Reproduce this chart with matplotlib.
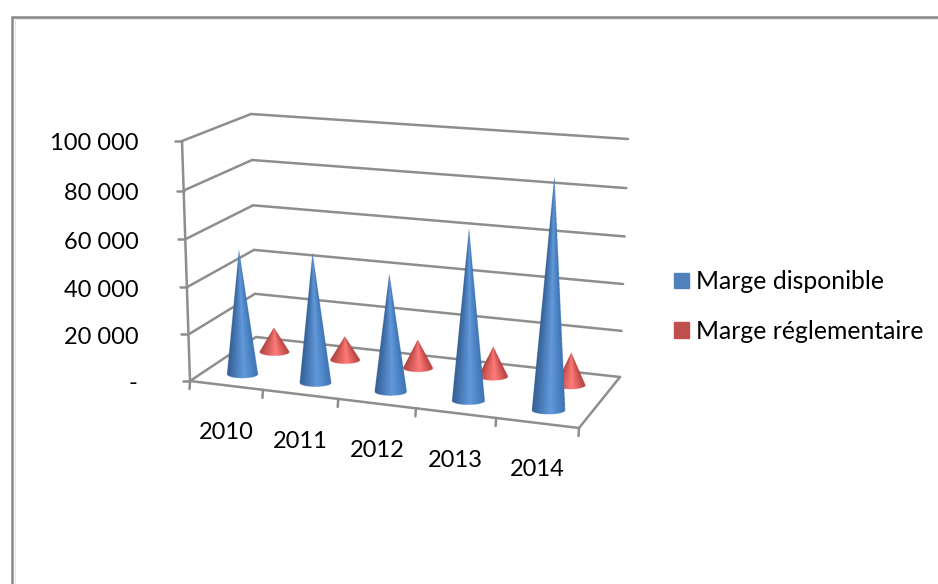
import matplotlib
matplotlib.use('Agg')
import matplotlib.pyplot as plt
from matplotlib.patches import Patch
import numpy as np

plt.rcParams['font.family'] = ['Lato', 'DejaVu Sans']

years = ['2010', '2011', '2012', '2013', '2014']
marge_disponible = [53500, 55000, 49500, 70700, 94000]
marge_reglementaire = [11000, 10500, 12500, 13000, 14000]
axis_values = [0, 20000, 40000, 60000, 80000, 100000]
axis_labels = ['-', '20 000', '40 000', '60 000', '80 000', '100 000']

GRID = '#8e8e8e'
BLUE = '#4f81bd'
RED = '#c0504d'


def homography(corners):
    # unit square (u, d) to the four screen corners
    src = [(0, 0), (1, 0), (1, 1), (0, 1)]
    a = []
    b = []
    for (u, d), (x, y) in zip(src, corners):
        a.append([u, d, 1, 0, 0, 0, -u * x, -d * x])
        a.append([0, 0, 0, u, d, 1, -u * y, -d * y])
        b += [x, y]
    h = np.linalg.solve(np.array(a, dtype=float), np.array(b, dtype=float))
    return np.append(h, 1).reshape(3, 3)


floor_h = homography([(190, 381), (579, 428), (620, 377), (256, 337)])
top_h = homography([(182, 141), (589, 172), (628, 139), (251, 114)])


def apply_h(h, u, d):
    p = h @ np.array([u, d, 1.0])
    return p[:2] / p[2]


def project(cat, depth, value):
    # cat in category units, depth 0 front to 1 back
    u = cat / len(years)
    f = apply_h(floor_h, u, depth)
    t = apply_h(top_h, u, depth)
    s = value / 100000
    s = s / (1 + 0.04 * (1 - s))  # slight vertical perspective
    return f + (t - f) * s


def line(ax, p, q, lw=1.8):
    ax.plot([p[0], q[0]], [p[1], q[1]], color=GRID, lw=lw, solid_capstyle='round', zorder=2)


def shade(t, dark_l, light, dark_r):
    # t from -1 (left edge) to 1 (right edge), brightest a bit right of middle
    out = np.zeros(t.shape + (3,))
    for i in range(3):
        out[..., i] = np.interp(t, [-1, 0.1, 1], [dark_l[i], light[i], dark_r[i]])
    return out


def draw_cone(ax, base, tip, half_w, half_h, dark_l, light, dark_r, z):
    ss = 4
    x0 = int(min(base[0] - half_w, tip[0])) - 2
    x1 = int(max(base[0] + half_w, tip[0])) + 3
    y0 = int(tip[1]) - 2
    y1 = int(base[1] + half_h) + 3
    xs = np.arange(x0, x1, 1 / ss)
    ys = np.arange(y0, y1, 1 / ss)
    xx, yy = np.meshgrid(xs, ys)
    frac = np.clip((yy - tip[1]) / (base[1] - tip[1]), 0, 1)
    xc = tip[0] + (base[0] - tip[0]) * frac
    hw = np.maximum(half_w * frac, 0.01)
    t = np.clip((xx - xc) / hw, -1, 1)
    lower = base[1] + half_h * np.sqrt(np.maximum(1 - t ** 2, 0))
    inside = (np.abs(xx - xc) <= hw) & (yy >= tip[1]) & (yy <= lower)
    inside = inside & ((yy <= base[1]) | (np.abs(xx - base[0]) <= half_w))
    rgb = shade(t, dark_l, light, dark_r)
    img = np.dstack([rgb, inside.astype(float)])
    ax.imshow(img, extent=(x0, x1, y1, y0), interpolation='antialiased', zorder=z, aspect='auto')


fig = plt.figure(figsize=(9.38, 5.84), dpi=100)
ax = fig.add_axes([0, 0, 1, 1])
ax.set_axis_off()

# page frame, runs off the right and bottom of the picture
ax.plot([12, 12, 938], [584, 17, 17], color='#878787', lw=1.8, solid_joinstyle='miter', zorder=1)
ax.plot([14.5, 14.5, 938], [584, 19, 19], color='#e4e4e4', lw=0.8, zorder=0.5)

# walls
n = len(years)
for v in axis_values:
    front = project(0, 0, v)
    back = project(0, 1, v)
    right = project(n, 1, v)
    line(ax, front, back)
    line(ax, back, right)
    line(ax, front, front + np.array([-7, 0]))

line(ax, project(0, 0, 0), project(0, 0, 100000))

# floor
line(ax, project(0, 0, 0), project(n, 0, 0))
line(ax, project(n, 0, 0), project(n, 1, 0))
for i in range(n + 1):
    p = project(i, 0, 0)
    line(ax, p, p + np.array([-0.5, 8]))

# cones, back to front
blue_shades = ((0.20, 0.37, 0.58), (0.38, 0.60, 0.86), (0.24, 0.45, 0.70))
red_shades = ((0.68, 0.26, 0.25), (1.0, 0.48, 0.47), (0.70, 0.25, 0.24))
z = 3
for i in range(n):
    base = project(i + 0.5, 0.74, 0)
    tip = project(i + 0.5, 0.74, marge_reglementaire[i])
    draw_cone(ax, base, tip, 15, 4, *red_shades, z)
    z += 1
for i in range(n):
    base = project(i + 0.5, 0.24, 0)
    tip = project(i + 0.5, 0.24, marge_disponible[i])
    draw_cone(ax, base, tip, 15.5 + 0.3 * i, 4, *blue_shades, z)
    z += 1

# value labels
for v, lab in zip(axis_values, axis_labels):
    p = project(0, 0, v)
    if lab == '-':
        ax.text(133, p[1] + 2, lab, ha='center', va='center', fontsize=17, color='black')
    else:
        ax.text(139, p[1] + 3, lab, ha='right', va='center', fontsize=17, color='black')

# year labels
for i, y in enumerate(years):
    p = project(i + 0.5, 0, 0)
    ax.text(p[0], p[1] + 47, y, ha='center', va='center', fontsize=17, color='black')

handles = [Patch(color=BLUE, label='Marge disponible'), Patch(color=RED, label='Marge réglementaire')]
ax.legend(handles=handles, loc='center left', bbox_to_anchor=(667, 306.5),
          bbox_transform=ax.transData, frameon=False, fontsize=17.8,
          handlelength=0.6, handleheight=0.6, handletextpad=0.28, labelspacing=1.08,
          borderpad=0.3, borderaxespad=0)

ax.set_xlim(0, 938)
ax.set_ylim(584, 0)
fig.savefig('out.png', dpi=100, facecolor='white')
